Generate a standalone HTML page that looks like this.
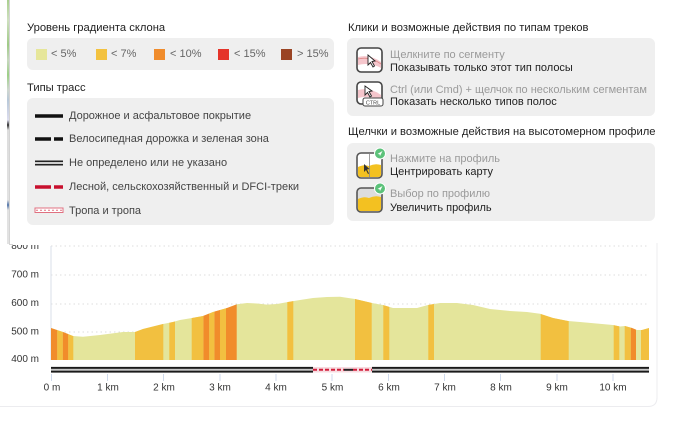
<!DOCTYPE html>
<html><head><meta charset="utf-8">
<style>
*{margin:0;padding:0;box-sizing:border-box}
html,body{width:680px;height:443px;overflow:hidden;background:#fff;font-family:"Liberation Sans","DejaVu Sans",sans-serif;}
.a{position:absolute;white-space:nowrap}
.title{font-size:11.2px;color:#1e1e1e;}
.box{position:absolute;background:#efefef;border-radius:6px}
.sw{position:absolute;width:11px;height:11px}
.pt{font-size:11px;color:#666;}
.lt{font-size:11px;color:#444;}
.g{font-size:11px;color:#9a9a9a;}
.b{font-size:11px;color:#222;}
</style></head><body>

<!-- map strip on the left -->
<div class="a" style="left:7px;top:0;width:2px;height:244px;background:linear-gradient(#a9cf8e 0,#cfe0c0 20px,#9fca86 45px,#c7d8bf 60px,#9ccf86 75px,#d0d8d0 90px,#b8c8d8 100px,#dde 120px,#333 125px,#ddd 130px,#e2e2e2 200px,#5577aa 205px,#e2e2e2 210px,#e2e2e2 244px)"></div>
<div class="a" style="left:9px;top:0;width:1px;height:245px;background:#d4d4d4"></div>
<div class="a" style="left:9px;top:244px;width:4px;height:1px;background:#d4d4d4"></div>

<!-- Left section -->
<div class="a title" style="left:27px;top:22px">Уровень градиента склона</div>
<div class="box" style="left:27px;top:38px;width:307px;height:32px"></div>
<div class="sw" style="left:36px;top:49px;background:#e6e69a"></div>
<div class="a pt" style="left:51px;top:48px">&lt; 5%</div>
<div class="sw" style="left:96px;top:49px;background:#f3c23f"></div>
<div class="a pt" style="left:111px;top:48px">&lt; 7%</div>
<div class="sw" style="left:154px;top:49px;background:#f08c2c"></div>
<div class="a pt" style="left:170px;top:48px">&lt; 10%</div>
<div class="sw" style="left:218px;top:49px;background:#e5342a"></div>
<div class="a pt" style="left:234px;top:48px">&lt; 15%</div>
<div class="sw" style="left:281px;top:49px;background:#9a4424"></div>
<div class="a pt" style="left:297px;top:48px">&gt; 15%</div>

<div class="a title" style="left:27px;top:82px">Типы трасс</div>
<div class="box" style="left:27px;top:98px;width:307px;height:127px"></div>
<svg class="a" style="left:0;top:0" width="340" height="230">
  <line x1="35" y1="116" x2="63" y2="116" stroke="#111" stroke-width="3.5"/>
  <line x1="35" y1="139" x2="63" y2="139" stroke="#111" stroke-width="3.5" stroke-dasharray="16,3"/>
  <line x1="35" y1="161.3" x2="63" y2="161.3" stroke="#222" stroke-width="1.5"/>
  <line x1="35" y1="163" x2="63" y2="163" stroke="#bbb" stroke-width="1.2"/>
  <line x1="35" y1="164.7" x2="63" y2="164.7" stroke="#222" stroke-width="1.5"/>
  <line x1="35" y1="187" x2="63" y2="187" stroke="#c8102e" stroke-width="3.5" stroke-dasharray="16,3"/>
  <rect x="35" y="208" width="28" height="4.5" fill="#fff" stroke="#e07080" stroke-width="1"/>
  <line x1="36" y1="210.3" x2="62" y2="210.3" stroke="#e07080" stroke-width="1" stroke-dasharray="2,2"/>
</svg>
<div class="a lt" style="left:69px;top:110px">Дорожное и асфальтовое покрытие</div>
<div class="a lt" style="left:69px;top:133px">Велосипедная дорожка и зеленая зона</div>
<div class="a lt" style="left:69px;top:157px">Не определено или не указано</div>
<div class="a lt" style="left:69px;top:181px">Лесной, сельскохозяйственный и DFCI-треки</div>
<div class="a lt" style="left:69px;top:205px">Тропа и тропа</div>

<!-- Right section -->
<div class="a title" style="left:348px;top:22px">Клики и возможные действия по типам треков</div>
<div class="box" style="left:347px;top:38px;width:308px;height:78px"></div>
<div class="a title" style="left:348px;top:126px">Щелчки и возможные действия на высотомерном профиле</div>
<div class="box" style="left:347px;top:143px;width:308px;height:78px"></div>

<svg class="a" style="left:340px;top:40px" width="60" height="180">
  <!-- icon 1 -->
  <rect x="17" y="8" width="25" height="24" rx="4" fill="#fff" stroke="#444" stroke-width="1.6"/>
  <path d="M18 17 Q30 14 41 22 L41 28 Q30 22 18 25Z" fill="#f5c6cc"/>
  <path d="M18 19 Q30 16 41 24" stroke="#d88" stroke-width="0.8" fill="none"/>
  <path d="M28 15 L28 25 L30.5 22.5 L33 27 L34.5 26 L32 21.5 L35 21 Z" fill="#fff" stroke="#222" stroke-width="0.9"/>
  <!-- icon 2 -->
  <rect x="17" y="42" width="25" height="22" rx="4" fill="#fff" stroke="#444" stroke-width="1.6"/>
  <path d="M18 50 Q30 47 41 55 L41 60 Q30 55 18 58Z" fill="#f5c6cc"/>
  <path d="M25 46 L25 55 L27.5 52.5 L30 57 L31.5 56 L29 51.5 L32 51 Z" fill="#fff" stroke="#222" stroke-width="0.9"/>
  <rect x="23" y="58" width="20" height="8" rx="2" fill="#fff" stroke="#444" stroke-width="1"/>
  <text x="33" y="64.5" font-size="5.5" text-anchor="middle" fill="#444" font-family="Liberation Sans">CTRL</text>
  <!-- icon 3 -->
  <rect x="17" y="113" width="25" height="25" rx="4" fill="#fff" stroke="#555" stroke-width="1.6"/>
  <path d="M18 127 Q24 124 29 126 Q35 123 41 125 L41 134 Q41 137 38 137 L21 137 Q18 137 18 134Z" fill="#f3c121"/>
  <line x1="29.5" y1="114" x2="29.5" y2="137" stroke="#888" stroke-width="0.8"/>
  <path d="M24 124 L24 132 L26 130 L28 134 L29 133.5 L27 129.5 L29.5 129 Z" fill="#333"/>
  <circle cx="40" cy="113.5" r="5.5" fill="#5cc27a" stroke="#fff" stroke-width="1"/>
  <path d="M37.5 114 L42.5 111 L40 116 L39.5 114.3 Z" fill="#fff"/>
  <!-- icon 4 -->
  <rect x="17" y="148" width="25" height="24" rx="4" fill="#ddd" stroke="#555" stroke-width="1.6"/>
  <path d="M18 159 Q24 156 29 158 Q35 155 41 157 L41 168 Q41 171 38 171 L21 171 Q18 171 18 168Z" fill="#f3c121"/>
  <circle cx="40" cy="148.5" r="5.5" fill="#5cc27a" stroke="#fff" stroke-width="1"/>
  <path d="M37.5 149 L42.5 146 L40 151 L39.5 149.3 Z" fill="#fff"/>
</svg>
<div class="a g" style="left:390px;top:49px">Щелкните по сегменту</div>
<div class="a b" style="left:390px;top:62px">Показывать только этот тип полосы</div>
<div class="a g" style="left:390px;top:84px">Ctrl (или Cmd) + щелчок по нескольким сегментам</div>
<div class="a b" style="left:390px;top:96px">Показать несколько типов полос</div>
<div class="a g" style="left:390px;top:153px">Нажмите на профиль</div>
<div class="a b" style="left:390px;top:166px">Центрировать карту</div>
<div class="a g" style="left:390px;top:188px">Выбор по профилю</div>
<div class="a b" style="left:390px;top:202px">Увеличить профиль</div>

<!-- Chart -->
<svg class="a" style="left:0;top:0" width="680" height="443" font-family="Liberation Sans, sans-serif">
  <defs>
    <clipPath id="vis"><rect x="0" y="245" width="680" height="200"/></clipPath>
    <clipPath id="prof"><polygon points="51,328 57,330 63,332 68,334 73,336 83,336.7 100,335 123,332 135,332 143,329 163,324 173,322 180,320 192,318 203,316 213,312 227,308 237,304.3 247,303 257,303.5 267,304.6 277,304 288,302 300,300 313,298 327,297 340,296.7 355,299 372,303 383,305 393,308 417,308 428,305 440,303 457,303 473,305 490,309 510,311 527,312 540,313.7 553,318 568,321 580,322 613,325 620,326.5 625,326 632,328 637,330 642,330 649,328 649,360 51,360"/></clipPath>
  </defs>
  <path d="M657 243 L657 397.5 Q657 406.5 648 406.5 L-10 406.5" fill="none" stroke="#ececef" stroke-width="1"/>
  <g clip-path="url(#vis)">
    <line x1="51" y1="246" x2="649" y2="246" stroke="#dedede" stroke-dasharray="1.5,3"/>
    <line x1="51" y1="275" x2="649" y2="275" stroke="#dedede" stroke-dasharray="1.5,3"/>
    <line x1="51" y1="304" x2="649" y2="304" stroke="#dedede" stroke-dasharray="1.5,3"/>
    <line x1="51" y1="332" x2="649" y2="332" stroke="#dedede" stroke-dasharray="1.5,3"/>
    <line x1="51" y1="246" x2="51" y2="360" stroke="#d9dfea" stroke-width="1"/>
    <g font-size="10" fill="#333" text-anchor="end">
      <text x="39" y="249">800 m</text>
      <text x="39" y="277.5">700 m</text>
      <text x="39" y="306">600 m</text>
      <text x="39" y="334.5">500 m</text>
      <text x="39" y="362">400 m</text>
    </g>
  </g>
  <g clip-path="url(#prof)">
    <rect x="51" y="290" width="598" height="70" fill="#e4e59b"/>
    <g fill="#f18c2b">
      <rect x="51" y="290" width="6.3" height="70"/>
      <rect x="62.7" y="290" width="5.6" height="70"/>
      <rect x="203.3" y="290" width="6" height="70"/>
      <rect x="214.3" y="290" width="5.7" height="70"/>
      <rect x="226" y="290" width="10.7" height="70"/>
      <rect x="630.7" y="290" width="5.3" height="70"/>
    </g>
    <g fill="#f2c040">
      <rect x="57.3" y="290" width="5.4" height="70"/>
      <rect x="68.3" y="290" width="5" height="70"/>
      <rect x="135" y="290" width="28.3" height="70"/>
      <rect x="169.3" y="290" width="5.7" height="70"/>
      <rect x="191.7" y="290" width="11.6" height="70"/>
      <rect x="209.3" y="290" width="5" height="70"/>
      <rect x="220" y="290" width="6" height="70"/>
      <rect x="287.3" y="290" width="6" height="70"/>
      <rect x="355" y="290" width="16.7" height="70"/>
      <rect x="383.3" y="290" width="6" height="70"/>
      <rect x="428.3" y="290" width="5.7" height="70"/>
      <rect x="540.7" y="290" width="28" height="70"/>
      <rect x="613.7" y="290" width="5.6" height="70"/>
      <rect x="624.7" y="290" width="6" height="70"/>
      <rect x="641" y="290" width="8" height="70"/>
    </g>
  </g>
  <!-- track bar -->
  <rect x="51" y="366.5" width="262" height="6.5" fill="#c8c8c8"/>
  <rect x="51" y="367" width="262" height="1.8" fill="#1a1a1a"/>
  <rect x="51" y="370.7" width="262" height="1.8" fill="#1a1a1a"/>
  <rect x="372" y="366.5" width="277" height="6.5" fill="#c8c8c8"/>
  <rect x="372" y="367" width="277" height="1.8" fill="#1a1a1a"/>
  <rect x="372" y="370.7" width="277" height="1.8" fill="#1a1a1a"/>
  <rect x="313" y="367" width="59" height="5.5" fill="#f7dbe0"/>
  <line x1="313" y1="369.8" x2="344" y2="369.8" stroke="#d21f3c" stroke-width="2" stroke-dasharray="4,2"/>
  <line x1="344" y1="369.8" x2="353" y2="369.8" stroke="#222" stroke-width="2"/>
  <line x1="353" y1="369.8" x2="372" y2="369.8" stroke="#d21f3c" stroke-width="2" stroke-dasharray="4,2"/>
  <g stroke="#cfdaec" stroke-width="1">
    <line x1="51.5" y1="374" x2="51.5" y2="381"/>
    <line x1="107.5" y1="374" x2="107.5" y2="381"/>
    <line x1="163.5" y1="374" x2="163.5" y2="381"/>
    <line x1="220" y1="374" x2="220" y2="381"/>
    <line x1="276" y1="374" x2="276" y2="381"/>
    <line x1="332" y1="374" x2="332" y2="381"/>
    <line x1="388.5" y1="374" x2="388.5" y2="381"/>
    <line x1="444.5" y1="374" x2="444.5" y2="381"/>
    <line x1="500.5" y1="374" x2="500.5" y2="381"/>
    <line x1="557" y1="374" x2="557" y2="381"/>
    <line x1="613" y1="374" x2="613" y2="381"/>
  </g>
  <g font-size="10" fill="#333" text-anchor="middle">
    <text x="52" y="390.5">0 m</text>
    <text x="108" y="390.5">1 km</text>
    <text x="164" y="390.5">2 km</text>
    <text x="220" y="390.5">3 km</text>
    <text x="276" y="390.5">4 km</text>
    <text x="332.5" y="390.5">5 km</text>
    <text x="389" y="390.5">6 km</text>
    <text x="445" y="390.5">7 km</text>
    <text x="501" y="390.5">8 km</text>
    <text x="557" y="390.5">9 km</text>
    <text x="613" y="390.5">10 km</text>
  </g>
</svg>
</body></html>
